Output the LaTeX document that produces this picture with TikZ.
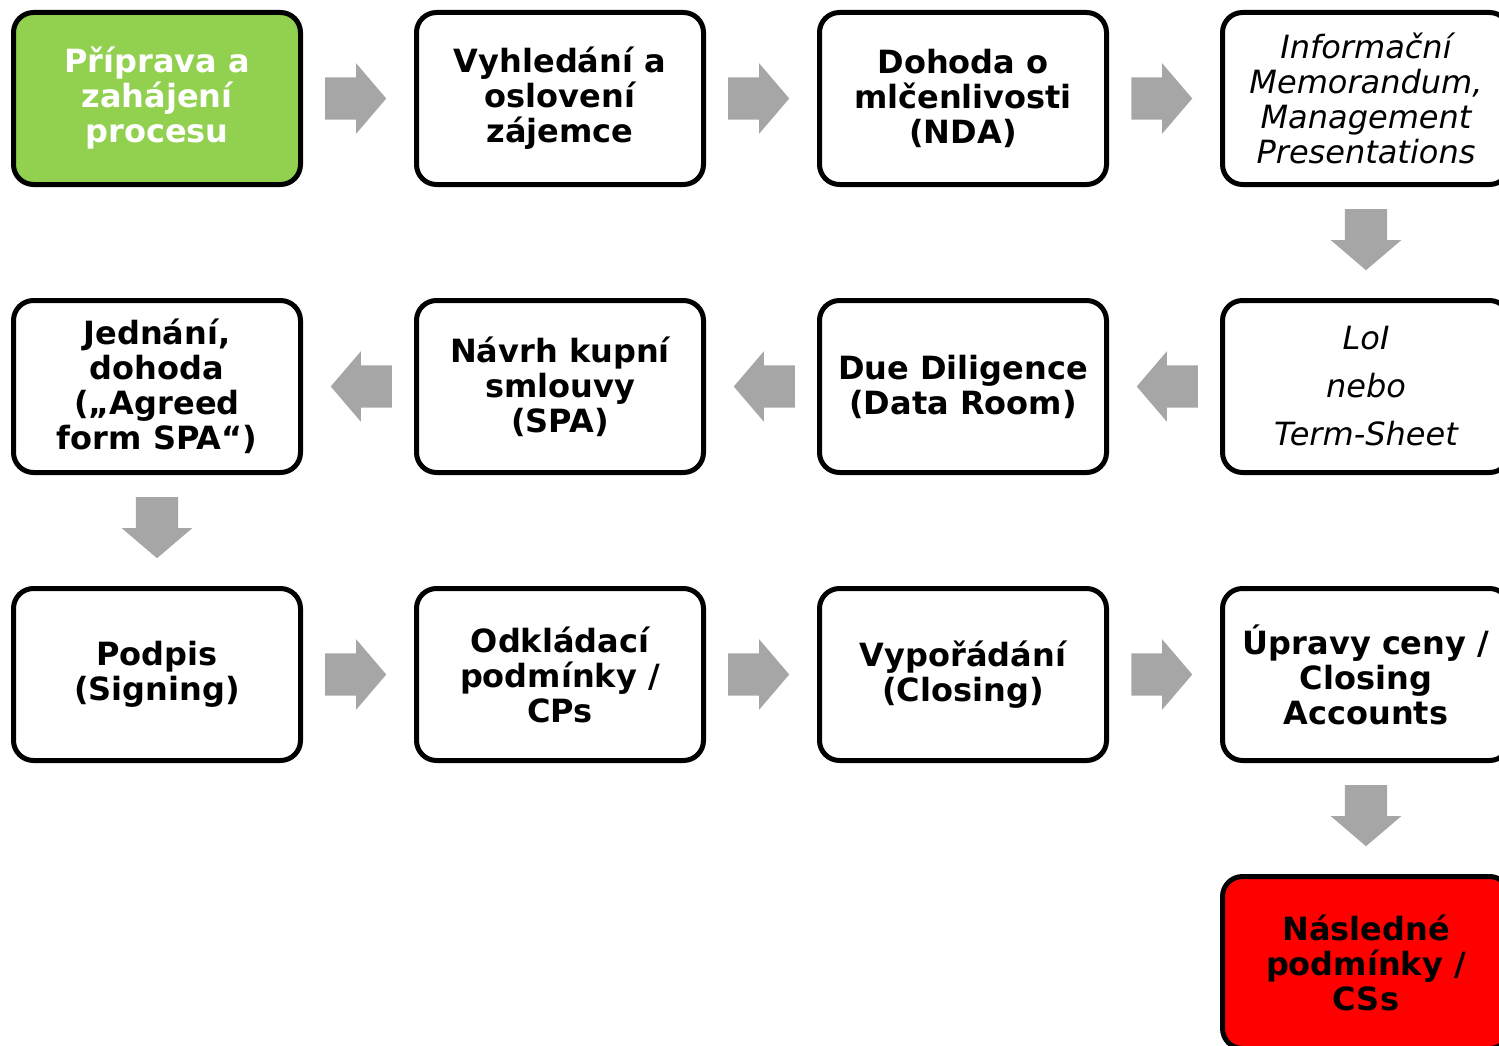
\documentclass[tikz,border=0pt]{standalone}
\usepackage{fontspec}
\setmainfont{DejaVu Sans}
\usetikzlibrary{positioning,shapes.arrows,calc}
\definecolor{startgreen}{HTML}{92D050}
\definecolor{endred}{HTML}{FF0000}
\definecolor{arrowgray}{HTML}{A6A6A6}

\tikzset{
  stepbox/.style={draw=black, line width=5pt, rounded corners=20pt, fill=white,
    minimum width=287pt, minimum height=172pt, inner sep=0pt, outer sep=0pt,
    align=center, font=\fontsize{32}{35}\selectfont\bfseries},
  memobox/.style={stepbox, font=\fontsize{32}{35}\selectfont\itshape},
  flowarrow/.style={single arrow, fill=arrowgray, draw=none,
    inner xsep=0pt, inner ysep=21pt, minimum height=61pt,
    single arrow head extend=14pt, single arrow tip angle=99,
    rotate=#1, anchor=tip}
}

\begin{document}
\begin{tikzpicture}[node distance=116pt]
\useasboundingbox (0pt,0pt) rectangle (1499pt,-1046pt);

% ===== Row 1: left to right =====
\node[stepbox, fill=startgreen, text=white] (prep) at (157pt,-98.5pt) {Příprava a\\ zahájení\\ procesu};
\node[stepbox, right=of prep] (search) {Vyhledání a\\ oslovení\\ zájemce};
\node[stepbox, right=of search] (nda) {Dohoda o\\ mlčenlivosti\\ (NDA)};
\node[memobox, right=of nda] (memo) {Informační\\ Memorandum,\\ Management\\ Presentations};

% ===== Row 2: right to left =====
\node[memobox, below=of memo] (loi) {LoI\\[13pt] nebo\\[13pt] Term-Sheet};
\node[stepbox, left=of loi] (dd) {Due Diligence\\ (Data Room)};
\node[stepbox, left=of dd] (spa) {Návrh kupní\\ smlouvy\\ (SPA)};
\node[stepbox, left=of spa] (agreed) {Jednání,\\ dohoda\\ („Agreed\\ form SPA“)};

% ===== Row 3: left to right =====
\node[stepbox, below=of agreed] (sign) {Podpis\\ (Signing)};
\node[stepbox, right=of sign] (cps) {Odkládací\\ podmínky /\\ CPs};
\node[stepbox, right=of cps] (closing) {Vypořádání\\ (Closing)};
\node[stepbox, right=of closing] (adjust) {Úpravy ceny /\\ Closing\\ Accounts};

% ===== Row 4 =====
\node[stepbox, fill=endred, below=of adjust] (post) {Následné\\ podmínky /\\ CSs};

% Block arrows between steps (tip just short of the next box)
\foreach \from/\to/\dir in {prep/search/0, search/nda/0, nda/memo/0, memo/loi/-90,
    loi/dd/180, dd/spa/180, spa/agreed/180, agreed/sign/-90,
    sign/cps/0, cps/closing/0, closing/adjust/0, adjust/post/-90}
  \node[flowarrow=\dir] (arr-\from) at ($(\from)!0.5!(\to)!28pt!(\to)$) {};

\end{tikzpicture}
\end{document}
